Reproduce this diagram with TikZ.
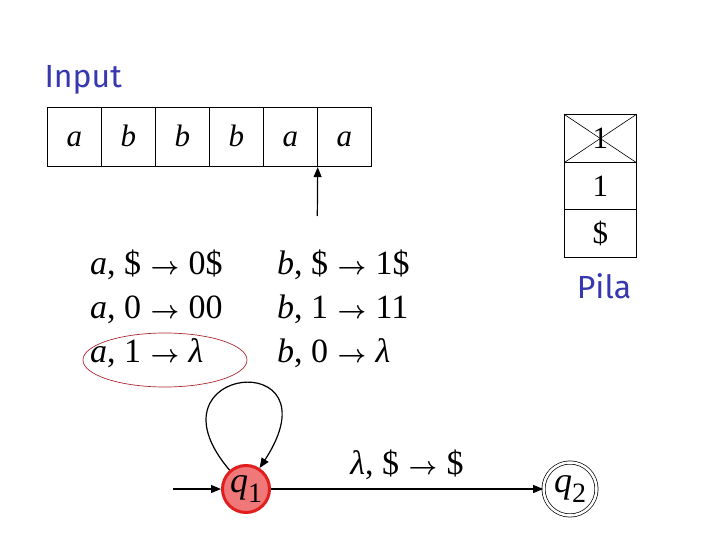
\documentclass[tikz,border=0pt]{standalone}
\usepackage{amsmath}
\usepackage{fontspec}
\setmainfont{Liberation Serif}
\newfontfamily\labelfont{Fira Sans}
\usetikzlibrary{arrows.meta,shapes.geometric}
\definecolor{lblue}{RGB}{55,55,175}
\definecolor{qfill}{RGB}{240,120,120}
\definecolor{qborder}{RGB}{225,30,30}
\definecolor{ovalred}{RGB}{170,40,50}
\tikzset{
  cell/.style={draw, line width=0.8pt, minimum width=54pt, minimum height=59.5pt, inner sep=0pt, text height=20pt, text depth=0pt, font=\fontsize{31}{36}\selectfont\itshape},
  scell/.style={draw, line width=0.8pt, minimum width=71.5pt, minimum height=47.5pt, inner sep=0pt, font=\fontsize{31}{36}\selectfont},
  blab/.style={font=\labelfont\fontsize{32}{36}\selectfont, text=lblue},
  trans/.style={anchor=base west, inner sep=0pt, font=\fontsize{34}{40}\selectfont},
  arr/.style={-{Triangle[length=10pt,width=8pt]}, line width=1.2pt},
  qstate/.style={circle, inner sep=0pt, font=\fontsize{36}{40}\selectfont}
}
\newcommand{\st}[1]{\textit{q}\raisebox{-0.3em}{\fontsize{28}{30}\selectfont #1}}
\newcommand{\myarr}{\;\(\boldsymbol{\rightarrow}\)\;}
\begin{document}
\begin{tikzpicture}[x=1pt,y=-1pt]
\useasboundingbox (0,0) rectangle (720,540);
% Input tape
\node[blab, anchor=base west] (inlab) at (41,88) {Input};
\node[cell] (c1) at (74.3,137) {a};
\node[cell] (c2) at (128.3,137) {b};
\node[cell] (c3) at (182.3,137) {b};
\node[cell] (c4) at (236.3,137) {b};
\node[cell] (c5) at (290.3,137) {a};
\node[cell] (c6) at (344.3,137) {a};
\coordinate (ptr) at (317.3,216);
\draw[arr] (ptr) -- (c5.south east);
% Stack
\node[scell] (s1) at (600.3,138.5) {1};
\node[scell] (s2) at (600.3,186) {1};
\node[scell] (s3) at (600.3,233.5) {\$};
\draw[line width=0.6pt] (s1.north west) -- (s1.south east);
\draw[line width=0.6pt] (s1.north east) -- (s1.south west);
\node[blab, anchor=base] (pila) at (604,298) {Pila};
% Transitions
\node[trans] (t1) at (90,274) {\textit{a}, \$\myarr 0\$};
\node[trans] (t2) at (90,318) {\textit{a}, 0\myarr 00};
\node[trans] (t3) at (90,362) {\textit{a}, 1\myarr \textit{λ}};
\node[trans] (t4) at (277,274) {\textit{b}, \$\myarr 1\$};
\node[trans] (t5) at (277,318) {\textit{b}, 1\myarr 11};
\node[trans] (t6) at (277,362) {\textit{b}, 0\myarr \textit{λ}};
\node[draw=ovalred, line width=0.7pt, ellipse, minimum width=164pt, minimum height=54pt] (oval) at (165,360) {};
% States
\node[qstate, draw=qborder, fill=qfill, line width=3pt, minimum size=47pt] (q1) at (246,489) {\st{1}};
\node[qstate, draw, double, double distance=2.5pt, line width=0.7pt, minimum size=53pt] (q2) at (570,489) {\st{2}};
\coordinate (init) at (173,489);
\draw[arr] (init) -- (q1.west);
\draw[arr] (q1.east) -- node[above=5pt, font=\fontsize{34}{40}\selectfont] (lab) {\textit{λ}, \$\myarr \$} (q2.west);
\draw[arr] (q1.131) .. controls (140,365) and (340,345) .. (q1.57);
\end{tikzpicture}
\end{document}
